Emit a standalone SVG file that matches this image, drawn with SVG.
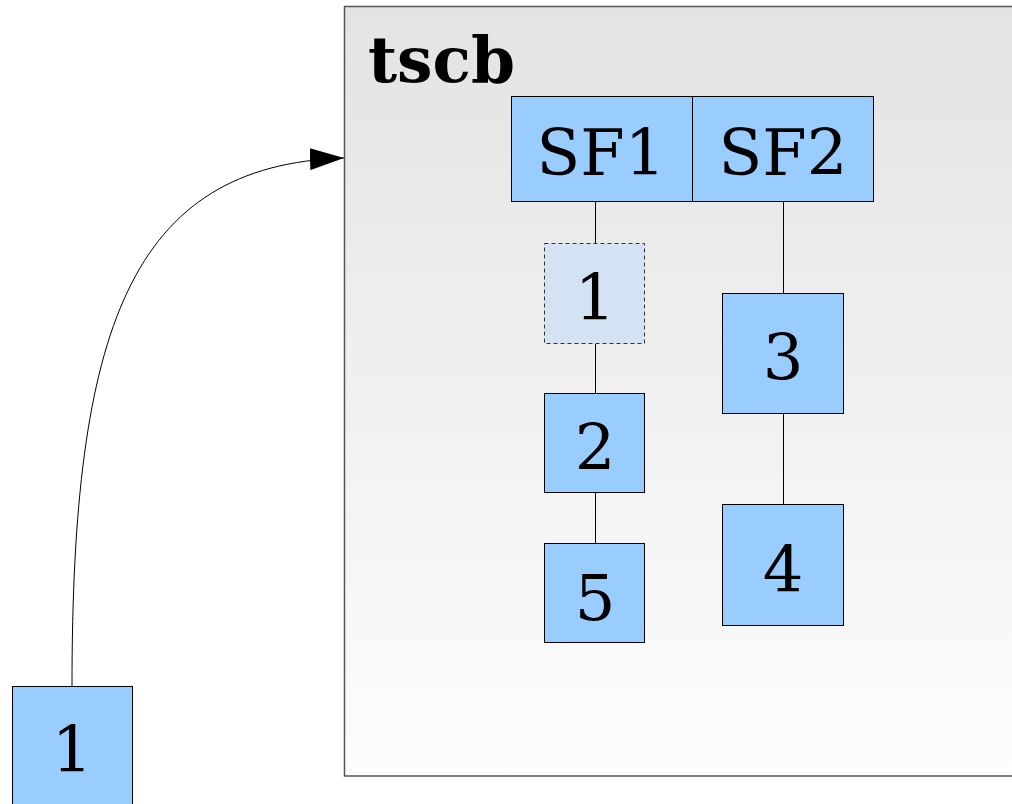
<svg xmlns="http://www.w3.org/2000/svg" width="1012" height="804" viewBox="0 0 1012 804">
  <defs>
    <linearGradient id="clusterFill" x1="0" y1="0" x2="0" y2="1">
      <stop offset="0" stop-color="#e3e3e3"/>
      <stop offset="1" stop-color="#fdfdfd"/>
    </linearGradient>
    <marker id="arrow" markerWidth="34" markerHeight="22" refX="34" refY="11" orient="auto" markerUnits="userSpaceOnUse">
      <path d="M0,0 L34,11 L0,22 Z" fill="#000"/>
    </marker>
    <style>
      .box { fill: #99ccff; stroke: #000; stroke-width: 1; }
      .ghost { fill: #d3e3f3; stroke: #333; stroke-width: 1; stroke-dasharray: 4 3; }
      .lbl { font-family: "DejaVu Serif", "Liberation Serif", serif; font-size: 64px; text-anchor: middle; fill: #000; }
      .edge { fill: none; stroke: #000; stroke-width: 1; }
    </style>
  </defs>
  <rect width="1012" height="804" fill="#fff"/>

  <g id="cluster_tscb">
    <rect x="344.5" y="6.5" width="700" height="769.5" fill="url(#clusterFill)" stroke="#555" stroke-width="1.5"/>
    <text x="368" y="82" font-family="DejaVu Serif, 'Liberation Serif', serif" font-weight="bold" font-size="63">tscb</text>
  </g>

  <g id="edges">
    <path class="edge" d="M72,686 C72,330 130,165 344,158" marker-end="url(#arrow)"/>
    <line class="edge" x1="595.5" y1="202" x2="595.5" y2="243"/>
    <line class="edge" x1="595.5" y1="344" x2="595.5" y2="393"/>
    <line class="edge" x1="595.5" y1="493" x2="595.5" y2="543"/>
    <line class="edge" x1="783.5" y1="202" x2="783.5" y2="293"/>
    <line class="edge" x1="783.5" y1="413" x2="783.5" y2="504"/>
  </g>

  <g id="sf1">
    <rect class="box" x="511.5" y="96.5" width="181" height="105"/>
    <text class="lbl" x="601" y="175">SF1</text>
  </g>
  <g id="sf2">
    <rect class="box" x="692.5" y="96.5" width="181" height="105"/>
    <text class="lbl" x="783" y="175">SF2</text>
  </g>
  <g id="n1_ghost">
    <rect class="ghost" x="544.5" y="243.5" width="100" height="100"/>
    <text class="lbl" x="595" y="320">1</text>
  </g>
  <g id="n2">
    <rect class="box" x="544.5" y="393.5" width="100" height="99"/>
    <text class="lbl" x="595" y="470">2</text>
  </g>
  <g id="n5">
    <rect class="box" x="544.5" y="543.5" width="100" height="99"/>
    <text class="lbl" x="595" y="620">5</text>
  </g>
  <g id="n3">
    <rect class="box" x="722.5" y="293.5" width="121" height="120"/>
    <text class="lbl" x="783" y="380">3</text>
  </g>
  <g id="n4">
    <rect class="box" x="722.5" y="504.5" width="121" height="121"/>
    <text class="lbl" x="783" y="592">4</text>
  </g>
  <g id="n1">
    <rect class="box" x="12.5" y="686.5" width="120" height="130"/>
    <text class="lbl" x="72" y="772">1</text>
  </g>
</svg>
